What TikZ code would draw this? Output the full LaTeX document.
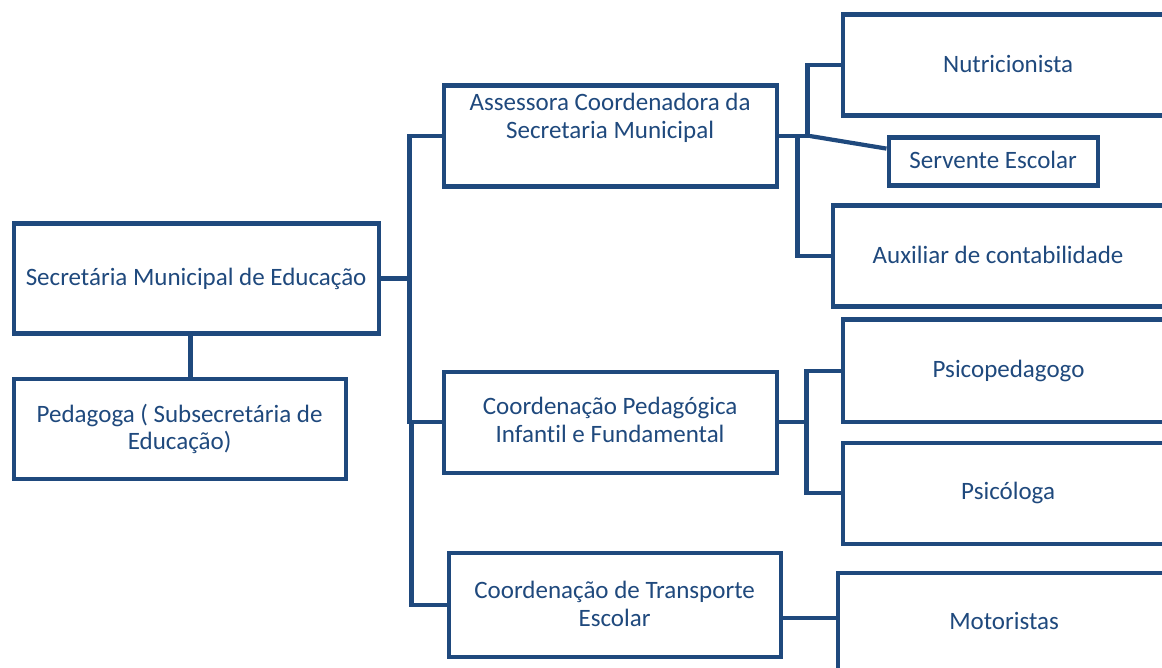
\documentclass[tikz,border=0pt]{standalone}
\usepackage{fontspec}
\setmainfont{Carlito}[Ligatures=NoCommon]
\definecolor{navy}{HTML}{1F497D}
\tikzset{
  box/.style={draw=navy, line width=4.2pt, fill=white, inner sep=0pt, anchor=north west, minimum width=#1},
  conn/.style={draw=navy, line width=4.2pt},
  txt/.style={text=navy, font=\fontsize{25}{27.5}\selectfont, inner sep=0pt, anchor=base}
}
\newcommand{\twol}[2]{\begin{tabular}[t]{@{}c@{}}#1\\#2\end{tabular}}
\begin{document}
\begin{tikzpicture}[x=1pt,y=-1pt]
\useasboundingbox (0,0) rectangle (1162,668);
\clip (0,0) rectangle (1162,668);
\fill[white] (0,0) rectangle (1162,668);
\begin{scope}[shift={(-1.5,-1.5)}]
% boxes
\node[box=365pt, minimum height=110pt] (sec) at (13,223) {};
\node[box=332pt, minimum height=100pt] (ped) at (13,378) {};
\node[box=333pt, minimum height=101pt] (ass) at (443,85) {};
\node[box=333pt, minimum height=101pt] (cp) at (443,371) {};
\node[box=332pt, minimum height=104pt] (tr) at (448,552) {};
\node[box=331pt, minimum height=101pt] (nut) at (842,14) {};
\node[box=209pt, minimum height=48pt] (srv) at (888,137) {};
\node[box=331pt, minimum height=101pt] (aux) at (832,205) {};
\node[box=332pt, minimum height=102pt] (psp) at (842,319) {};
\node[box=331pt, minimum height=101pt] (psl) at (842,442) {};
\node[box=333pt, minimum height=104pt] (mot) at (837,572) {};
% texts
\node[txt] (secT) at (sec.center |- 0,287) {Secretária Municipal de Educação};
\node[txt] (pedT) at (ped.center |- 0,423.7) {\twol{Pedagoga ( Subsecretária de}{Educação)}};
\node[txt] (assT) at (ass.center |- 0,112.5) {\twol{Assessora Coordenadora da}{Secretaria Municipal}};
\node[txt] (cpT) at (cp.center |- 0,416) {\twol{Coordenação Pedagógica}{Infantil e Fundamental}};
\node[txt] (trT) at (tr.center |- 0,600.3) {\twol{Coordenação de Transporte}{Escolar}};
\node[txt] (nutT) at (nut.center |- 0,73.7) {Nutricionista};
\node[txt] (srvT) at (srv.center |- 0,170.3) {Servente Escolar};
\node[txt] (auxT) at (aux.center |- 0,265.3) {Auxiliar de contabilidade};
\node[txt] (pspT) at (psp.center |- 0,379.3) {Psicopedagogo};
\node[txt] (pslT) at (psl.center |- 0,501.3) {Psicóloga};
\node[txt] (motT) at (mot.center |- 0,631.3) {Motoristas};
% junction coordinates
\coordinate (c0) at (192,0);
\coordinate (b1) at (411,0);
\coordinate (b2) at (413,425);
\coordinate (j1) at (812,0);
\coordinate (j2) at (809,0);
\coordinate (j3) at (799,0);
\coordinate (j4) at (808,0);
% connectors
\draw[conn] (sec.south -| c0) -- (ped.north -| c0);
\draw[conn] (sec.east) -- (sec.east -| b1);
\draw[conn] (ass.west) -- (ass.west -| b1) -- (cp.west -| b1) -- (cp.west);
\draw[conn] (b2) -- (b2 |- tr.west) -- (tr.west);
\draw[conn] (ass.east) -- (ass.east -| j1);
\draw[conn] (ass.east -| j2) |- (nut.west);
\draw[conn] (ass.east -| j3) |- (aux.west);
\draw[conn] (ass.east -| j1) -- ([yshift=13pt]srv.west);
\draw[conn] (cp.east) -- (cp.east -| j4);
\draw[conn] (psp.west) -- (psp.west -| j4) -- (psl.west -| j4) -- (psl.west);
\draw[conn] ([yshift=-13pt]tr.east) -- ([yshift=-13pt]tr.east -| mot.west);
\end{scope}
\end{tikzpicture}
\end{document}
